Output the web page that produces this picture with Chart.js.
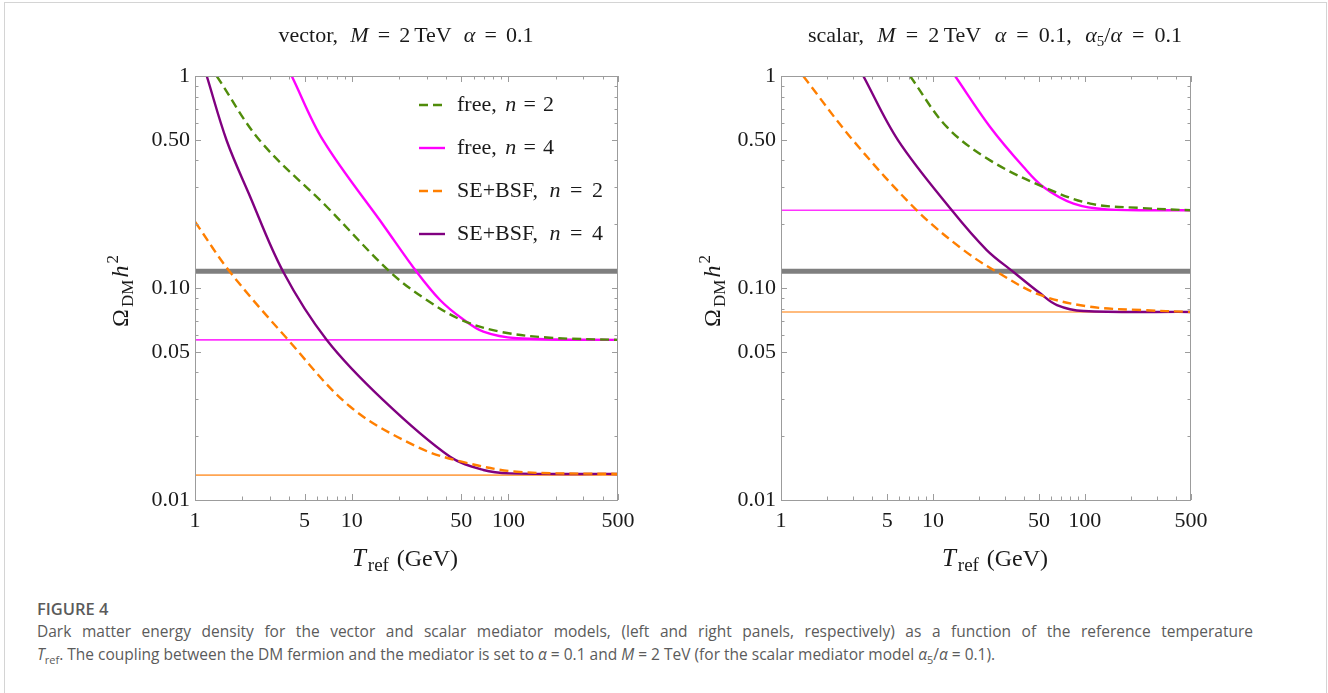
<!DOCTYPE html>
<html>
<head>
<meta charset="utf-8">
<script src="https://cdn.jsdelivr.net/npm/chart.js@4.4.1/dist/chart.umd.min.js"></script>
<style>
  body { margin: 0; background: #fff; width: 1328px; height: 693px; overflow: hidden; position: relative; }
  #frame { position: absolute; left: 4px; top: 2px; width: 1321px; height: 720px; border: 1px solid #d4d4d4; border-bottom: none; }
  .panel { position: absolute; top: 0; height: 580px; width: 664px; }
  #left { left: 0; }
  #right { left: 664px; }
  #cap { position: absolute; left: 37px; top: 597px; width: 1216px; color: #5b5b5b; font-family: 'Open Sans', sans-serif;
         font-size: 15.5px; line-height: 23px; white-space: nowrap; }
  #cap .fig { font-weight: 600; font-size: 16.5px; }
  #cap .l1 { text-align: justify; text-align-last: justify; white-space: normal; }
  #cap sub { font-size: 11px; }
</style>
</head>
<body>
<div id="frame"></div>
<div class="panel" id="left"><canvas id="vecChart"></canvas></div>
<div class="panel" id="right"><canvas id="scaChart"></canvas></div>
<div id="cap">
  <div class="fig">FIGURE 4</div>
  <div class="l1">Dark matter energy density for the vector and scalar mediator models, (left and right panels, respectively) as a function of the reference temperature</div>
  <div><i>T</i><sub>ref</sub>. The coupling between the DM fermion and the mediator is set to <i>α</i> = 0.1 and <i>M</i> = 2 TeV (for the scalar mediator model <i>α</i><sub>5</sub>/<i>α</i> = 0.1).</div>
</div>
<script>
/* ── axis ticks ── */
const xTicks = [1, 5, 10, 50, 100, 500];
const yTicks = [0.01, 0.05, 0.1, 0.5, 1];
const yTickLabels = ['0.01', '0.05', '0.10', '0.50', '1'];

/* ── vector mediator (left panel) ── */
const vecFree2T = [1.375, 2.6, 6.93, 17.56, 30.1, 50.3, 88.4, 184, 500];
const vecFree2O = [1, 0.495, 0.2417, 0.119, 0.0878, 0.0706, 0.0622, 0.0583, 0.0569];
const vecFree4T = [4.14, 6.59, 16.3, 26.0, 36.6, 50.3, 69.2, 113, 500];
const vecFree4O = [1, 0.495, 0.193, 0.119, 0.0878, 0.072, 0.0622, 0.0579, 0.0569];
const vecSE2T = [1, 1.673, 3.85, 9.75, 26.0, 50.3, 113, 500];
const vecSE2O = [0.2055, 0.119, 0.0579, 0.0276, 0.01784, 0.01516, 0.0136, 0.01327];
const vecSE4T = [1.188, 1.594, 2.2, 3.66, 6.93, 15.9, 42.4, 69.2, 102, 500];
const vecSE4O = [1, 0.495, 0.280, 0.119, 0.0569, 0.0296, 0.016, 0.01385, 0.01335, 0.01327];
const vecPlanck = 0.12;
const vecFreeLimit = 0.0569;
const vecSELimit = 0.0131;

/* ── scalar mediator (right panel) ── */
const scaFree2T = [7.07, 12.35, 23.8, 53.4, 108.5, 235, 500];
const scaFree2O = [1, 0.575, 0.40, 0.2996, 0.25, 0.2384, 0.2325];
const scaFree4T = [14.0, 23.8, 39.5, 53.4, 84.3, 140, 500];
const scaFree4O = [1, 0.575, 0.372, 0.2996, 0.25, 0.235, 0.2325];
const scaSE2T = [1.40, 2.98, 7.83, 15.9, 26.4, 50.8, 108.5, 235, 500];
const scaSE2O = [1, 0.497, 0.2325, 0.151, 0.119, 0.0927, 0.0816, 0.0787, 0.0771];
const scaSE4T = [3.48, 5.9, 13.32, 22.6, 33.9, 50.8, 65.5, 98, 500];
const scaSE4O = [1, 0.497, 0.2325, 0.151, 0.119, 0.0944, 0.0831, 0.0779, 0.0771];
const scaPlanck = 0.12;
const scaFreeLimit = 0.2325;
const scaSELimit = 0.0771;

const SERIF = '"Liberation Serif", "DejaVu Serif", serif';
const INK = '#1a1a1a';
const GREEN = '#508c0a';
const MAGENTA = '#ff00ff';
const ORANGE = '#ff7f00';
const PURPLE = '#800080';
const GRAY = '#7f7f7f';
const DASH = [9, 5];

function pts(xs, ys) { return xs.map((x, i) => ({ x, y: ys[i] })); }

function curve(xs, ys, color, dashed) {
  return {
    data: pts(xs, ys),
    borderColor: color,
    borderWidth: 2.4,
    borderDash: dashed ? DASH : [],
    pointRadius: 0,
    tension: 0.35,
    fill: false,
    order: 1,
  };
}

function hline(v, color, width) {
  return {
    data: [{ x: 1, y: v }, { x: 500, y: v }],
    borderColor: color,
    borderWidth: width,
    pointRadius: 0,
    fill: false,
    order: 5,
  };
}

/* rich text: [text, size, italic, dy] or a number = gap in px.
   with a target width the gaps are stretched to fill it */
function fontOf(p) { return (p[2] ? 'italic ' : '') + p[1] + 'px ' + SERIF; }
function drawRich(ctx, parts, x, y, center, target) {
  let w = 0, gaps = 0;
  parts.forEach(p => {
    if (typeof p === 'number') { w += p; gaps += p; return; }
    ctx.font = fontOf(p); w += ctx.measureText(p[0]).width;
  });
  const k = target && gaps ? 1 + (target - w) / gaps : 1;
  if (target) w = target;
  let cx = center ? x - w / 2 : x;
  ctx.textBaseline = 'alphabetic';
  ctx.textAlign = 'left';
  parts.forEach(p => {
    if (typeof p === 'number') { cx += p * k; return; }
    ctx.font = fontOf(p);
    ctx.fillText(p[0], cx, y + (p[3] || 0));
    cx += ctx.measureText(p[0]).width;
  });
}

const xTitle = [['T', 25, 1], 1, ['ref', 19, 0, 5], 4, ['(GeV)', 24]];
const yTitle = [['Ω', 24], 1, ['DM', 17, 0, 5], 1, ['h', 24, 1], 1, ['2', 17, 0, -10]];
const eq = v => [9, ['=', 22], 9, [v, 22]];
function legendLabel(name, n) { return [[name, 22], 11, ['n', 22, 1], ...eq(n)]; }

/* frame, inward Mathematica-style ticks, titles and legend */
const decorPlugin = {
  id: 'decor',
  afterDraw(chart, args, o) {
    const { ctx, chartArea: a, scales: { x, y } } = chart;
    ctx.save();
    ctx.strokeStyle = '#9c9c9c';
    ctx.lineWidth = 1;
    ctx.strokeRect(a.left + 0.5, a.top + 0.5, a.right - a.left - 1, a.bottom - a.top);

    const seg = (x1, y1, x2, y2) => { ctx.beginPath(); ctx.moveTo(x1, y1); ctx.lineTo(x2, y2); ctx.stroke(); };
    [1, 10, 100].forEach(d => {
      for (let m = 1; m <= 9; m++) {
        const v = m * d;
        if (v > 500) continue;
        const len = xTicks.includes(v) ? 6 : 3.5;
        const px = Math.round(x.getPixelForValue(v)) + 0.5;
        seg(px, a.bottom, px, a.bottom - len);
        seg(px, a.top, px, a.top + len);
      }
    });
    [0.01, 0.1].forEach(d => {
      for (let m = 1; m <= 10; m++) {
        const v = +(m * d).toFixed(3);
        const len = yTicks.includes(v) ? 6 : 3.5;
        const py = Math.round(y.getPixelForValue(v)) + 0.5;
        seg(a.left, py, a.left + len, py);
        seg(a.right, py, a.right - len, py);
      }
    });

    ctx.fillStyle = INK;
    drawRich(ctx, o.title, o.titleX, 42, true, o.titleW);
    drawRich(ctx, xTitle, o.xTitleX, 566, true, 106);
    ctx.save();
    ctx.translate(o.yTitleX, 291);
    ctx.rotate(-Math.PI / 2);
    drawRich(ctx, yTitle, 0, 0, true, 72);
    ctx.restore();

    if (o.legend) {
      o.legend.forEach((item, i) => {
        const cy = 105 + i * 43;
        ctx.strokeStyle = item.color;
        ctx.lineWidth = 2.4;
        ctx.setLineDash(item.dashed ? DASH : []);
        seg(419, cy, 445, cy);
        ctx.setLineDash([]);
        ctx.fillStyle = INK;
        drawRich(ctx, item.label, 457, cy + 6, false, item.width);
      });
    }
    ctx.restore();
  }
};

function panel(canvasId, datasets, yWidth, padRight, decor) {
  return new Chart(document.getElementById(canvasId), {
    type: 'line',
    data: { datasets },
    options: {
      responsive: true,
      maintainAspectRatio: false,
      animation: false,
      layout: { padding: { top: 76, right: padRight, bottom: 0, left: 0 } },
      plugins: { legend: { display: false }, tooltip: { enabled: false }, decor },
      scales: {
        x: {
          type: 'logarithmic', min: 1, max: 500,
          grid: { display: false, drawTicks: false }, border: { display: false },
          afterBuildTicks: s => { s.ticks = xTicks.map(v => ({ value: v })); },
          afterFit: s => { s.height = 80; },
          ticks: {
            color: INK, font: { family: SERIF, size: 22 }, padding: 8,
            maxRotation: 0, autoSkip: false, callback: (v, i) => String(xTicks[i]),
          },
        },
        y: {
          type: 'logarithmic', min: 0.01, max: 1,
          grid: { display: false, drawTicks: false }, border: { display: false },
          afterBuildTicks: s => { s.ticks = yTicks.map(v => ({ value: v })); },
          afterFit: s => { s.width = yWidth; },
          ticks: {
            color: INK, font: { family: SERIF, size: 22 }, padding: 5,
            autoSkip: false, callback: (v, i) => yTickLabels[i],
          },
        },
      },
    },
    plugins: [decorPlugin],
  });
}

/* ── left: vector ── */
panel('vecChart', [
  curve(vecFree2T, vecFree2O, GREEN, true),
  curve(vecFree4T, vecFree4O, MAGENTA, false),
  curve(vecSE2T, vecSE2O, ORANGE, true),
  curve(vecSE4T, vecSE4O, PURPLE, false),
  hline(vecPlanck, GRAY, 5),
  hline(vecFreeLimit, 'rgba(255,0,255,0.8)', 1.6),
  hline(vecSELimit, '#ffa552', 1.6),
], 195, 46, {
  title: [['vector,', 22], 12, ['M', 22, 1], ...eq('2'), 4, ['TeV', 22], 12, ['α', 22, 1], ...eq('0.1')],
  titleX: 406, titleW: 255, xTitleX: 405, yTitleX: 128,
  legend: [
    { color: GREEN, dashed: true, width: 97, label: legendLabel('free,', '2') },
    { color: MAGENTA, dashed: false, width: 97, label: legendLabel('free,', '4') },
    { color: ORANGE, dashed: true, width: 146, label: legendLabel('SE+BSF,', '2') },
    { color: PURPLE, dashed: false, width: 146, label: legendLabel('SE+BSF,', '4') },
  ],
});

/* ── right: scalar ── */
panel('scaChart', [
  curve(scaFree2T, scaFree2O, GREEN, true),
  curve(scaFree4T, scaFree4O, MAGENTA, false),
  curve(scaSE2T, scaSE2O, ORANGE, true),
  curve(scaSE4T, scaSE4O, PURPLE, false),
  hline(scaPlanck, GRAY, 5),
  hline(scaFreeLimit, 'rgba(255,0,255,0.8)', 1.6),
  hline(scaSELimit, '#ffa552', 1.6),
], 117, 137, {
  title: [['scalar,', 22], 12, ['M', 22, 1], ...eq('2'), 4, ['TeV', 22], 12, ['α', 22, 1], ...eq('0.1,'), 12,
          ['α', 22, 1], ['5', 15, 0, 4], ['/', 22], ['α', 22, 1], ...eq('0.1')],
  titleX: 995 - 664, titleW: 374, xTitleX: 995 - 664, yTitleX: 720 - 664,
  legend: null,
});
</script>
</body>
</html>
